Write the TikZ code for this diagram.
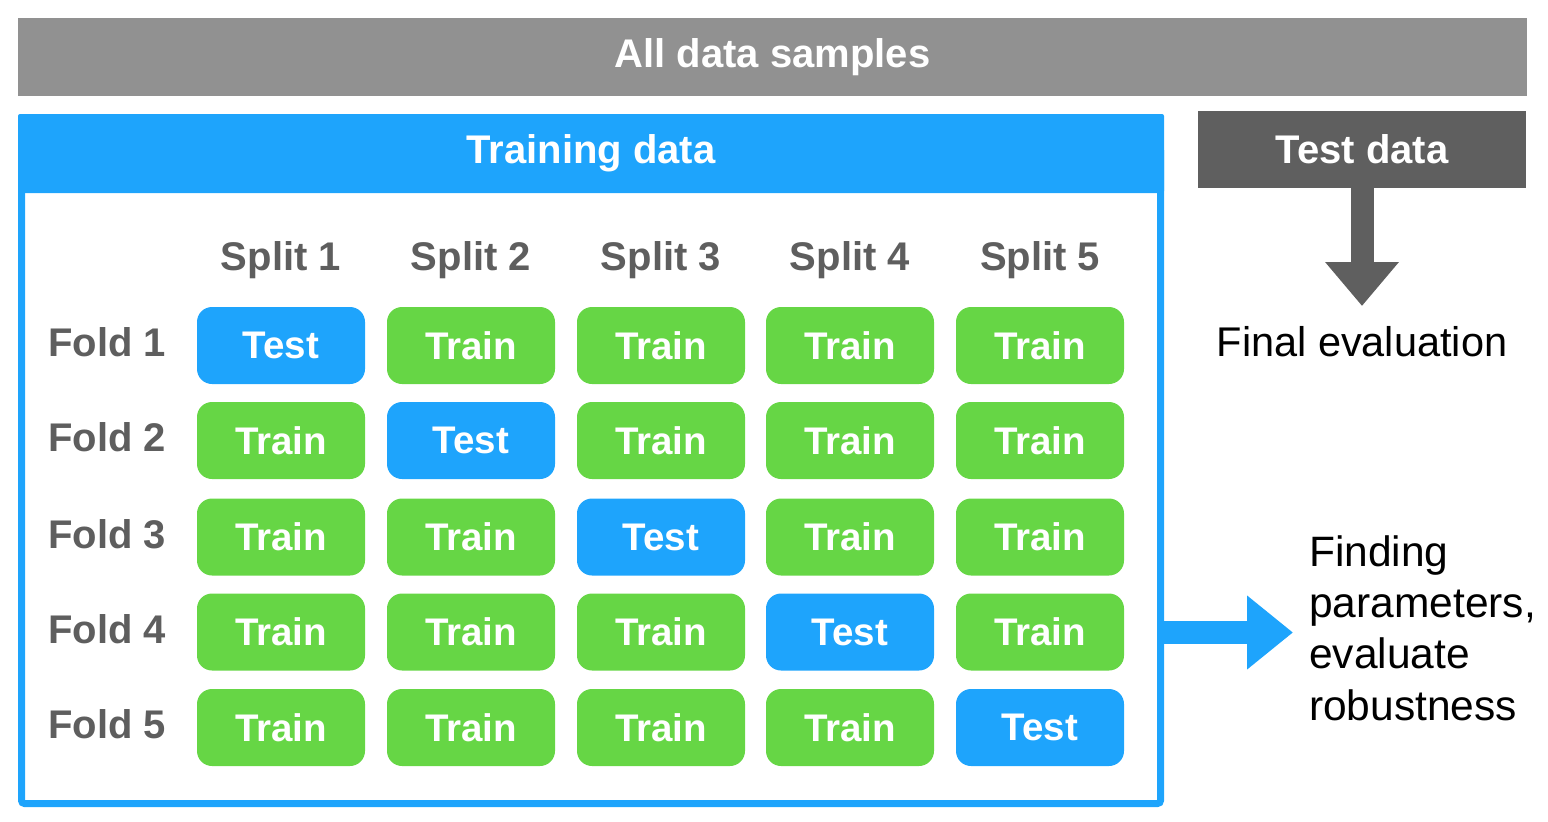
\documentclass[tikz,border=0pt]{standalone}
\usepackage{fontspec}
\setmainfont{Liberation Sans}
\usetikzlibrary{arrows.meta}
\definecolor{barGray}{HTML}{919191}
\definecolor{darkGray}{HTML}{5F5F5F}
\definecolor{labGray}{HTML}{5E5E5E}
\definecolor{skyBlue}{HTML}{1EA4FC}
\definecolor{leafGreen}{HTML}{66D645}
\tikzset{
  cell/.style={minimum width=168pt, minimum height=77pt, rounded corners=15pt, inner sep=0pt,
    text=white, font=\fontsize{38.5}{44}\bfseries\selectfont},
  traincell/.style={cell, fill=leafGreen},
  testcell/.style={cell, fill=skyBlue},
  hlabel/.style={text=labGray, font=\fontsize{40}{46}\bfseries\selectfont, inner sep=0pt},
  bartext/.style={text=white, font=\fontsize{40}{46}\bfseries\selectfont, inner sep=0pt},
  plain/.style={text=black, font=\fontsize{41.5}{51}\selectfont, inner sep=0pt},
  bigplain/.style={text=black, font=\fontsize{42.5}{51.3}\selectfont, inner sep=0pt},
}
\begin{document}
\begin{tikzpicture}[x=1pt,y=-1pt]
\useasboundingbox (0,0) rectangle (1548,822);
% all data samples
\node[fill=barGray, minimum width=1509pt, minimum height=78pt, inner sep=0pt] (all) at (772.5,57) {};
\node[bartext] (alltxt) at (all.center) {All data samples};
% training data
\draw[skyBlue, line width=7pt, rounded corners=3pt] (21.5,150) -- (21.5,803.5) -- (1160.5,803.5) -- (1160.5,150);
\node[fill=skyBlue, minimum width=1146pt, minimum height=79pt, inner sep=0pt, rounded corners=2pt] (train) at (591,153.5) {};
\node[bartext] (traintxt) at (train.center) {Training data};
% test data
\node[fill=darkGray, minimum width=328pt, minimum height=77pt, inner sep=0pt] (test) at (1362,149.5) {};
\node[bartext] (testtxt) at (test.center) {Test data};
\coordinate (fetip) at (1362,306);
\draw[darkGray, line width=23pt, -{Triangle[length=44pt,width=71pt]}] (test.south) -- (fetip);
\node[plain, anchor=base] (final) at (1362,356) {Final evaluation};
% splits
\foreach \c/\x in {1/281,2/471,3/661,4/850,5/1040}{
  \node[hlabel, anchor=base] (split\c) at (\x,270) {Split \c};
}
\foreach \r/\y in {1/345.5,2/440.5,3/537,4/632,5/727.5}{
  \node[hlabel, anchor=base west] (fold\r) at (48,\y+11) {Fold \r};
  \foreach \c/\x in {1/281,2/471,3/661,4/850,5/1040}{
    \ifnum\r=\c
      \node[testcell] (c\r\c) at (\x,\y) {Test};
    \else
      \node[traincell] (c\r\c) at (\x,\y) {Train};
    \fi
  }
}
% right arrow
\coordinate (rstart) at (1160.5,632.5);
\coordinate (rtip) at (1293,632.5);
\draw[skyBlue, line width=23pt, -{Triangle[length=46pt,width=71pt]}] (rstart) -- (rtip);
\node[bigplain, anchor=base west, align=left] (find) at (1309,720) {Finding\\parameters,\\evaluate\\robustness};
\end{tikzpicture}
\end{document}
